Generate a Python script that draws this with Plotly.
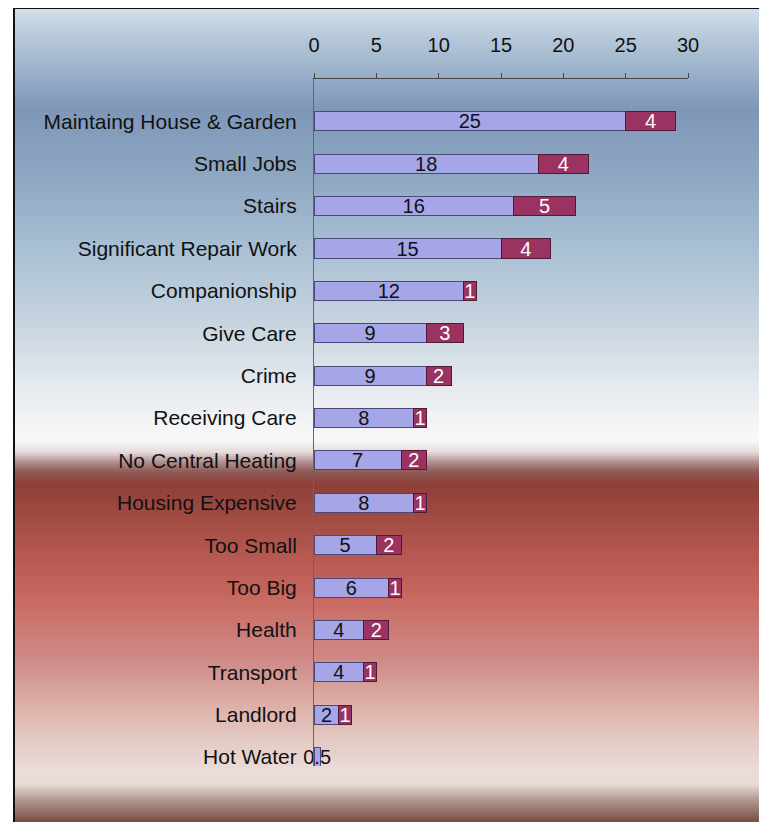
import plotly.graph_objects as go
import numpy as np

# data
categories = ["Maintaing House & Garden", "Small Jobs", "Stairs", "Significant Repair Work",
              "Companionship", "Give Care", "Crime", "Receiving Care", "No Central Heating",
              "Housing Expensive", "Too Small", "Too Big", "Health", "Transport", "Landlord",
              "Hot Water"]
series_a = [25, 18, 16, 15, 12, 9, 9, 8, 7, 8, 5, 6, 4, 4, 2, 0.5]
series_b = [4, 4, 5, 4, 1, 3, 2, 1, 2, 1, 2, 1, 2, 1, 1, None]
x_ticks = [0, 5, 10, 15, 20, 25, 30]

# page body adds an 8px offset, so the figure is sized to fill the rest of the window
OFF = 8
W, H = 767 - OFF, 822 - OFF
L, R, T, B = 314 - OFF, 767 - 688, 79 - OFF, 822 - 766
FONT = "Liberation Sans, Arial, sans-serif"

fig = go.Figure()

fig.add_trace(go.Bar(
    y=categories, x=series_a, orientation="h", width=0.45,
    marker=dict(color="#a5a5e8", line=dict(color="#4a4a78", width=1)),
    text=series_a, textposition="inside", insidetextanchor="middle",
    textangle=0, constraintext="none", cliponaxis=False,
    textfont=dict(family=FONT, size=20, color="#111111"),
    showlegend=False, hoverinfo="x+y"
))
fig.add_trace(go.Bar(
    y=categories, x=series_b, orientation="h", width=0.45,
    marker=dict(color="#9a3262", line=dict(color="#4e1a34", width=1)),
    text=series_b, textposition="inside", insidetextanchor="middle",
    textangle=0, constraintext="none", cliponaxis=False,
    textfont=dict(family=FONT, size=20, color="white"),
    showlegend=False, hoverinfo="x+y"
))

# background gradient (window pixel row -> colour), drawn as thin strips behind the plot
stops = [
    (8, "#d4e0ea"), (40, "#b4c6d8"), (110, "#7e97b8"), (180, "#8fa8c2"),
    (250, "#a9c0d4"), (330, "#cad6e0"), (390, "#e6ebf0"), (440, "#f9f9f9"),
    (452, "#e6dcdc"), (462, "#b09090"), (472, "#8e5a55"), (485, "#8e4038"),
    (560, "#b85a52"), (600, "#c86a62"), (660, "#cf8a88"), (700, "#dcaca4"),
    (740, "#e4cac4"), (772, "#ecdcd8"), (785, "#e6d8d4"), (800, "#b09890"),
    (822, "#7a4c44"),
]
sy = np.array([s[0] for s in stops], dtype=float)
rgb = np.array([[int(c[i:i + 2], 16) for i in (1, 3, 5)] for _, c in stops], dtype=float)

pw, ph = W - L - R, H - T - B
def px_x(p):
    return (p - OFF - L) / pw
def px_y(p):
    return (H - B - (p - OFF)) / ph

shapes = []
step = 2
for y0 in range(8, 822, step):
    yc = y0 + step / 2
    col = [np.interp(yc, sy, rgb[:, k]) for k in range(3)]
    shapes.append(dict(
        type="rect", xref="paper", yref="paper", layer="below",
        x0=px_x(14), x1=px_x(770), y0=px_y(y0 + step + 0.5), y1=px_y(y0),
        line=dict(width=0), fillcolor="rgb(%d,%d,%d)" % tuple(int(round(v)) for v in col)
    ))
# black frame on the top and left
shapes.append(dict(type="line", xref="paper", yref="paper", layer="above",
                   x0=px_x(14), x1=px_x(770), y0=px_y(8), y1=px_y(8),
                   line=dict(color="#111111", width=2)))
shapes.append(dict(type="line", xref="paper", yref="paper", layer="above",
                   x0=px_x(14), x1=px_x(14), y0=px_y(8), y1=px_y(825),
                   line=dict(color="#111111", width=2)))

fig.update_layout(
    width=W, height=H,
    margin=dict(l=L, r=R, t=T, b=B),
    barmode="stack",
    paper_bgcolor="white", plot_bgcolor="rgba(0,0,0,0)",
    font=dict(family=FONT, color="#111111"),
    shapes=shapes,
    xaxis=dict(
        side="top", range=[0, 30], tickvals=x_ticks, showgrid=False, zeroline=False,
        showline=True, linecolor="#444444", linewidth=1,
        ticks="outside", ticklen=5, tickcolor="#444444",
        ticklabelstandoff=13, tickfont=dict(family=FONT, size=20, color="#111111"),
    ),
    yaxis=dict(
        type="category", categoryorder="array", categoryarray=categories,
        range=[15.21, -1.0], showgrid=False, zeroline=False,
        showline=True, linecolor="#666666", linewidth=1, ticks="",
        ticklabelstandoff=12, tickfont=dict(family=FONT, size=21, color="#111111"),
    ),
)

fig.write_html("out.html")
